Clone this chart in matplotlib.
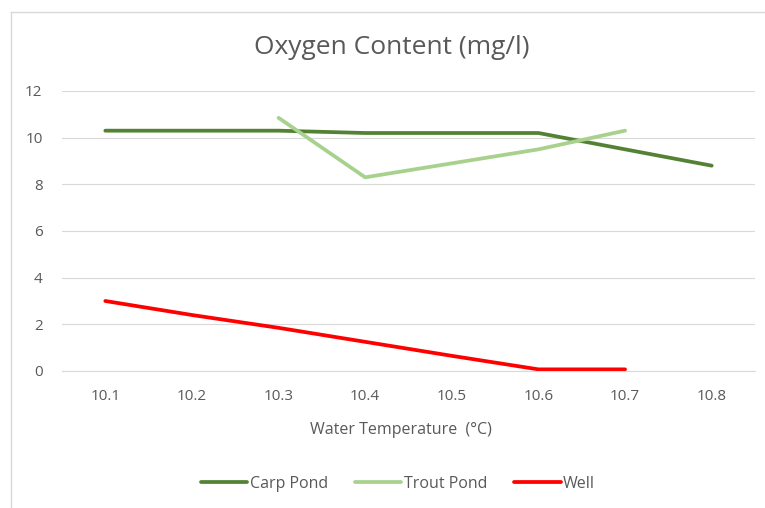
import numpy as np
import matplotlib
matplotlib.use('Agg')
import matplotlib.pyplot as plt
from matplotlib.lines import Line2D

temps = ['10.1', '10.2', '10.3', '10.4', '10.5', '10.6', '10.7', '10.8']
carp_pond = [10.3, 10.3, 10.3, 10.2, 10.2, 10.2, 9.5, 8.8]
trout_pond = [np.nan, np.nan, 10.85, 8.3, 8.9, 9.5, 10.3, np.nan]
well = [3.0, 2.4, 1.85, 1.25, 0.65, 0.07, 0.07, np.nan]

plt.rcParams['font.family'] = ['Open Sans', 'DejaVu Sans']
text_col = '#595959'

fig = plt.figure(figsize=(7.65, 5.08), dpi=100)
ax = fig.add_axes([62 / 765, 1 - 371 / 508, 693 / 765, 280 / 508])

x = np.arange(len(temps))
ax.plot(x, carp_pond, color='#548235', lw=2.7, solid_capstyle='round', label='Carp Pond')
ax.plot(x, trout_pond, color='#A9D18E', lw=2.7, solid_capstyle='round', label='Trout Pond')
ax.plot(x, well, color='#FF0000', lw=2.7, solid_capstyle='round', label='Well')

ax.set_xlim(-0.5, len(temps) - 0.5)
ax.set_ylim(0, 12)
ax.set_yticks(range(0, 13, 2))
ax.set_xticks(x)
ax.set_xticklabels(temps)
ax.tick_params(length=0, colors=text_col, labelsize=11)
ax.tick_params(axis='x', pad=13)
ax.tick_params(axis='y', pad=14)
ax.grid(axis='y', color='#d9d9d9', lw=0.8)
ax.set_axisbelow(True)
for s in ['top', 'right', 'left']:
    ax.spines[s].set_visible(False)
ax.spines['bottom'].set_color('#d9d9d9')

fig.text(392 / 765, 1 - 47 / 508, 'Oxygen Content (mg/l)', ha='center', va='center',
         fontsize=19, color=text_col)
fig.text(401 / 765, 1 - 430 / 508, 'Water Temperature  (°C)', ha='center', va='center',
         fontsize=11.5, color=text_col)

fig.legend(loc='center', bbox_to_anchor=(398 / 765, 1 - 484 / 508), ncol=3, frameon=False,
           fontsize=11.5, labelcolor=text_col, handlelength=2.9, handletextpad=0.15,
           columnspacing=1.7)

# chart border (left and top edges visible)
fig.add_artist(Line2D([11 / 765, 11 / 765], [0, 1 - 12 / 508], transform=fig.transFigure,
                      color='#d9d9d9', lw=1))
fig.add_artist(Line2D([11 / 765, 1], [1 - 12 / 508, 1 - 12 / 508], transform=fig.transFigure,
                      color='#d9d9d9', lw=1))

fig.savefig('out.png', dpi=100)
